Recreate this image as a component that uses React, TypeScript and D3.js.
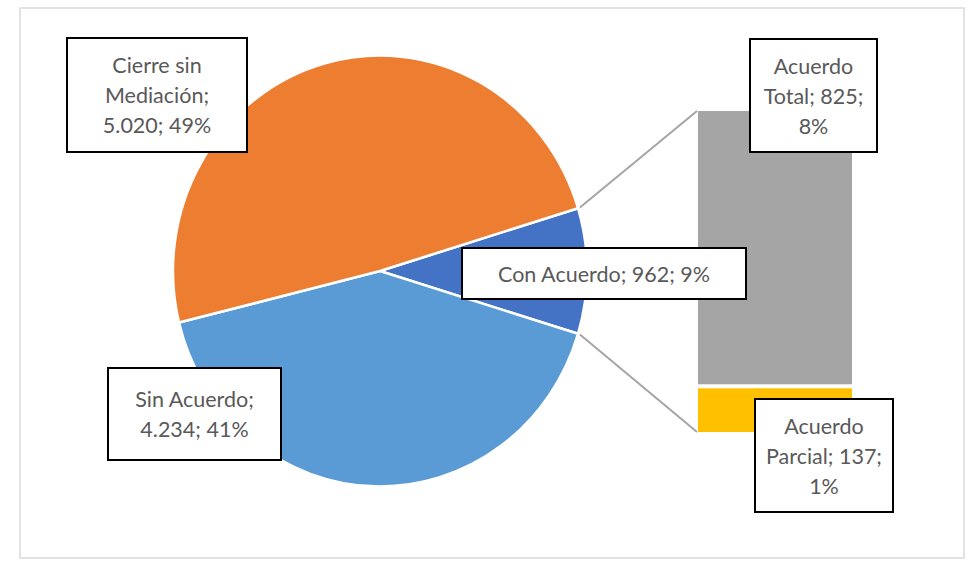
import React, { useEffect, useRef } from 'react';
import * as d3 from 'd3';

// pie slices (clockwise from the split-off slice)
const pieNames = ['Con Acuerdo', 'Sin Acuerdo', 'Cierre sin Mediación'];
const pieValues = [962, 4234, 5020];
// secondary bar (breakdown of "Con Acuerdo"), bottom to top
const barNames = ['Acuerdo Parcial', 'Acuerdo Total'];
const barValues = [137, 825];

const pieColors = ['#4472C4', '#5B9BD5', '#ED7D31'];
const barColors = ['#FFC000', '#A5A5A5'];

// label boxes: [x0, y0, x1, y1] and how the text is broken into lines
const labelBoxes: Record<string, { box: number[]; lines: string[] }> = {
  'Con Acuerdo': { box: [462, 248, 746, 299], lines: ['{n}; {v}; {p}'] },
  'Sin Acuerdo': { box: [108, 368, 281, 460], lines: ['Sin Acuerdo;', '{v}; {p}'] },
  'Cierre sin Mediación': { box: [67, 38, 247, 152], lines: ['Cierre sin', 'Mediación;', '{v}; {p}'] },
  'Acuerdo Total': { box: [750, 39, 877, 152], lines: ['Acuerdo', 'Total; {v};', '{p}'] },
  'Acuerdo Parcial': { box: [755, 399, 893, 512], lines: ['Acuerdo', 'Parcial; {v};', '{p}'] },
};

const esLocale = d3.formatLocale({ decimal: ',', thousands: '.', grouping: [3], currency: ['', ''] });
const fmtNum = esLocale.format(',d');
const fmtPct = esLocale.format('.0%');

const App: React.FC = () => {
  const ref = useRef<SVGSVGElement | null>(null);

  useEffect(() => {
    const W = 968, H = 561;
    const svg = d3.select(ref.current);
    svg.selectAll('*').remove();
    svg.attr('width', W).attr('height', H);

    svg.append('rect')
      .attr('x', 20).attr('y', 8).attr('width', 944).attr('height', 550)
      .attr('fill', 'white').attr('stroke', '#D9D9D9').attr('stroke-width', 1.5);

    const total = d3.sum(pieValues);
    const cx = 380, cy = 271, rx = 207, ry = 215.5;

    const span = (pieValues[0] / total) * Math.PI * 2;
    const start = Math.PI / 2 - span / 2;
    const pie = d3.pie<number>().sort(null).startAngle(start).endAngle(start + Math.PI * 2);
    const arcs = pie(pieValues);
    const arc = d3.arc<d3.PieArcDatum<number>>().innerRadius(0).outerRadius(rx);

    svg.append('g')
      .attr('transform', `translate(${cx},${cy}) scale(1,${ry / rx})`)
      .selectAll('path')
      .data(arcs)
      .enter()
      .append('path')
      .attr('d', arc)
      .attr('fill', (_d, i) => pieColors[i])
      .attr('stroke', 'white')
      .attr('stroke-width', 2.5)
      .attr('stroke-linejoin', 'round');

    // secondary stacked bar
    const barX0 = 698, barX1 = 852;
    const barSum = d3.sum(barValues);
    const yBar = d3.scaleLinear().domain([0, barSum]).range([432, 111]);
    const gap = 2;
    let acc = 0;
    const segs = barValues.map((v, i) => {
      const s = { i, y0: acc, y1: acc + v };
      acc += v;
      return s;
    });
    const last = segs.length - 1;
    svg.append('g')
      .selectAll('rect')
      .data(segs)
      .enter()
      .append('rect')
      .attr('x', barX0)
      .attr('width', barX1 - barX0)
      .attr('y', (d) => yBar(d.y1) + (d.i === last ? 0 : gap))
      .attr('height', (d) => yBar(d.y0) - yBar(d.y1) - (d.i === last ? 0 : gap) - (d.i === 0 ? 0 : gap))
      .attr('fill', (d) => barColors[d.i]);

    // connector lines
    const pt = (a: number, pad: number) => [cx + (rx + pad) * Math.sin(a), cy - (ry + pad) * Math.cos(a)];
    const a0 = arcs[0].startAngle, a1 = arcs[0].endAngle;
    const p0 = pt(a0, 2), p1 = pt(a1, 2);
    svg.append('line')
      .attr('x1', p0[0]).attr('y1', p0[1]).attr('x2', barX0 - 1).attr('y2', yBar(barSum))
      .attr('stroke', '#A5A5A5').attr('stroke-width', 2);
    svg.append('line')
      .attr('x1', p1[0]).attr('y1', p1[1]).attr('x2', barX0 - 1).attr('y2', yBar(0))
      .attr('stroke', '#A5A5A5').attr('stroke-width', 2);

    // labels
    const allNames = [...pieNames, ...barNames];
    const allValues = [...pieValues, ...barValues];
    allNames.forEach((name, i) => {
      const lb = labelBoxes[name];
      const [x0, y0, x1, y1] = lb.box;
      const g = svg.append('g');
      g.append('rect')
        .attr('x', x0).attr('y', y0).attr('width', x1 - x0).attr('height', y1 - y0)
        .attr('fill', 'white').attr('stroke', '#000').attr('stroke-width', 2);
      const mx = (x0 + x1) / 2, my = (y0 + y1) / 2;
      const n = lb.lines.length;
      lb.lines.forEach((ln, j) => {
        const txt = ln
          .replace('{n}', name)
          .replace('{v}', fmtNum(allValues[i]))
          .replace('{p}', fmtPct(allValues[i] / total));
        g.append('text')
          .attr('x', mx)
          .attr('y', my + (j - (n - 1) / 2) * 30 + 8)
          .attr('text-anchor', 'middle')
          .attr('font-family', 'Lato, sans-serif')
          .attr('font-size', 21.5)
          .attr('fill', '#595959')
          .text(txt);
      });
    });
  }, []);

  return <svg ref={ref} style={{ position: 'absolute', left: 0, top: 0 }}></svg>;
};

export default App;
